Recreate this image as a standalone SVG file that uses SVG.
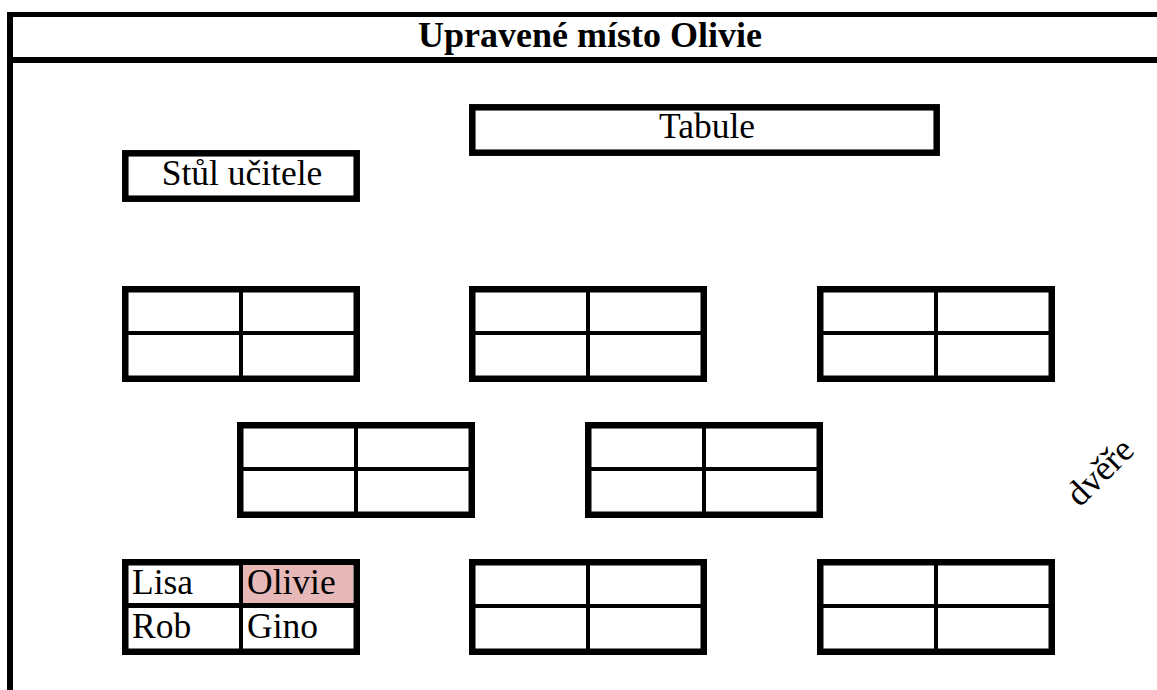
<svg xmlns="http://www.w3.org/2000/svg" width="1157" height="690" viewBox="0 0 1157 690">
  <style>
    .frame { stroke: #000; stroke-width: 6; fill: none; }
    .box { fill: #fff; stroke: #000; stroke-width: 6.5; }
    .grid { stroke: #000; stroke-width: 4; fill: none; }
    .t { font-family: "Liberation Serif", "Times New Roman", serif; fill: #000; }
    .title { font-size: 36px; font-weight: bold; text-anchor: middle; }
    .lbl { font-size: 35.5px; }
    .mid { text-anchor: middle; }
  </style>
  <defs>
    <!-- one desk: 2x2 seat grid, outer size 238x96 -->
    <g id="desk">
      <rect class="box" x="3.25" y="3.25" width="231.5" height="89.5"/>
      <line class="grid" x1="119" y1="3" x2="119" y2="93"/>
      <line class="grid" x1="3" y1="47" x2="235" y2="47"/>
    </g>
  </defs>

  <rect width="1157" height="690" fill="#fff"/>

  <!-- room frame and heading -->
  <g id="frame">
    <line class="frame" x1="7" y1="14.5" x2="1157" y2="14.5" style="stroke-width:5"/>
    <line class="frame" x1="7" y1="60" x2="1157" y2="60"/>
    <line class="frame" x1="10" y1="12" x2="10" y2="690"/>
    <text class="t title" x="590" y="47">Upravené místo Olivie</text>
  </g>

  <g id="tabule">
    <rect class="box" x="472.3" y="107.3" width="464.4" height="45.4"/>
    <text class="t lbl mid" x="707" y="138">Tabule</text>
  </g>

  <g id="stul-ucitele">
    <rect class="box" x="125.3" y="153.3" width="231.4" height="45.4"/>
    <text class="t lbl mid" x="242" y="185">Stůl učitele</text>
  </g>

  <!-- row 1 -->
  <g id="desk-1-1"><use href="#desk" x="122" y="286"/></g>
  <g id="desk-1-2"><use href="#desk" x="469" y="286"/></g>
  <g id="desk-1-3"><use href="#desk" x="817" y="286"/></g>

  <!-- row 2 -->
  <g id="desk-2-1"><use href="#desk" x="237" y="422"/></g>
  <g id="desk-2-2"><use href="#desk" x="585" y="422"/></g>

  <!-- row 3, with Olivie's highlighted seat -->
  <g id="desk-3-1">
    <use href="#desk" x="122" y="559"/>
    <rect x="243" y="565" width="110" height="38" fill="#e6b8b7"/>
    <line class="grid" x1="241" y1="562" x2="241" y2="652"/>
    <line class="grid" x1="125" y1="605" x2="357" y2="605"/>
    <text class="t lbl" x="132" y="594">Lisa</text>
    <text class="t lbl" x="247" y="594">Olivie</text>
    <text class="t lbl" x="132" y="638">Rob</text>
    <text class="t lbl" x="247" y="638">Gino</text>
  </g>
  <g id="desk-3-2"><use href="#desk" x="469" y="559"/></g>
  <g id="desk-3-3"><use href="#desk" x="817" y="559"/></g>

  <g id="dvere">
    <text class="t lbl mid" x="1108" y="480" transform="rotate(-45 1108 480)">dvěře</text>
  </g>

  <g id="connectors"/>
</svg>
